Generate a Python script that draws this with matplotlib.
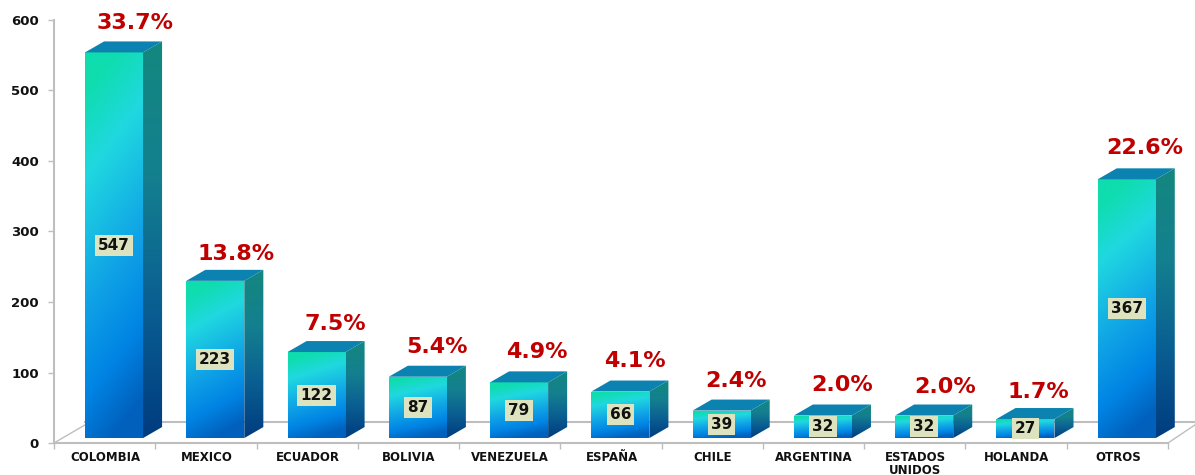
import matplotlib
matplotlib.use("Agg")
import matplotlib.pyplot as plt
from matplotlib.colors import LinearSegmentedColormap
from matplotlib.patches import Polygon
import numpy as np

categories = ["COLOMBIA", "MEXICO", "ECUADOR", "BOLIVIA", "VENEZUELA", "ESPAÑA",
              "CHILE", "ARGENTINA", "ESTADOS\nUNIDOS", "HOLANDA", "OTROS"]
values = [547, 223, 122, 87, 79, 66, 39, 32, 32, 27, 367]
percents = ["33.7%", "13.8%", "7.5%", "5.4%", "4.9%", "4.1%", "2.4%", "2.0%", "2.0%", "1.7%", "22.6%"]
y_ticks = [0, 100, 200, 300, 400, 500, 600]

# pixel nudges for the percent labels, they are not placed evenly in the original
pct_dx = [21, 21, 19, 19, 18, 15, 14, 19, 21, 13, 18]
pct_dy = [18, 16, 17, 19, 19, 20, 19, 20, 18, 16, 20]

# axis box in pixels
PX_LEFT, PX_RIGHT, PX_TOP, PX_BOTTOM = 54, 1168, 20, 443
W, H = 1195, 475

# bar geometry in data units
bar_start = 0.306
bar_width = 0.573
depth_x = 0.188
depth_y = 15.6
base = 7

front_cmap = LinearSegmentedColormap.from_list(
    "front", [(0, "#0FDDAE"), (0.22, "#20D8E0"), (0.55, "#10A4E6"), (0.8, "#0084E4"), (1, "#0060BC")])
side_cmap = LinearSegmentedColormap.from_list(
    "side", ["#13877F", "#14808F", "#0A5F92", "#003C80"])
top_color = "#0C82B0"
gray = "#BEBEBE"

fig = plt.figure(figsize=(W / 100, H / 100), dpi=100)
ax = fig.add_axes([PX_LEFT / W, 1 - PX_BOTTOM / H, (PX_RIGHT - PX_LEFT) / W, (PX_BOTTOM - PX_TOP) / H])


def gradient_fill(points, cmap, diag):
    poly = Polygon(points, closed=True, facecolor="none", edgecolor="none", transform=ax.transData)
    ax.add_patch(poly)
    v, h = np.mgrid[0:1:120j, 0:1:60j]
    t = np.clip(v + diag * (h - 0.5), 0, 1)
    xs = [p[0] for p in points]
    ys = [p[1] for p in points]
    im = ax.imshow(t, cmap=cmap, vmin=0, vmax=1, aspect="auto", zorder=3, interpolation="bilinear",
                   extent=[min(xs), max(xs), min(ys), max(ys)], origin="upper")
    # image is cut to its clip box, the last bar sticks out of the axes
    im.set_clip_box(fig.bbox)
    im.set_clip_path(poly)


# floor and back wall line
ax.plot([0, 0.31], [0, 26], color=gray, lw=1, clip_on=False, zorder=1)
ax.plot([11, 11.27], [0, 26], color=gray, lw=1, clip_on=False, zorder=1)
ax.plot([0.31, 11.27], [30, 30], color=gray, lw=1.5, clip_on=False, zorder=1)

for i, val in enumerate(values):
    x0 = i + bar_start
    x1 = x0 + bar_width
    y0 = base
    y1 = base + val
    gradient_fill([(x0, y0), (x1, y0), (x1, y1), (x0, y1)], front_cmap, 0.2)
    gradient_fill([(x1, y0), (x1 + depth_x, y0 + depth_y), (x1 + depth_x, y1 + depth_y), (x1, y1)], side_cmap, 0.0)
    ax.add_patch(Polygon([(x0, y1), (x1, y1), (x1 + depth_x, y1 + depth_y), (x0 + depth_x, y1 + depth_y)],
                         closed=True, facecolor=top_color, edgecolor="none", zorder=3, clip_on=False))
    ax.text((x0 + x1) / 2, (y0 + y1) / 2, str(val), ha="center", va="center", fontsize=11,
            fontweight="bold", color="#111111", zorder=5,
            bbox=dict(boxstyle="square,pad=0.2", facecolor="#DDE3BE", edgecolor="none"))
    ax.annotate(percents[i], xy=((x0 + x1) / 2, y1 + depth_y),
                xytext=(pct_dx[i] * 0.72, pct_dy[i] * 0.72), textcoords="offset points",
                ha="center", va="center", fontsize=16, fontweight="bold", color="#C00000",
                zorder=6, annotation_clip=False)

ax.set_xlim(0, 11)
ax.set_ylim(0, 600)
ax.set_facecolor("none")

for side in ["top", "right"]:
    ax.spines[side].set_visible(False)
for side in ["left", "bottom"]:
    ax.spines[side].set_color(gray)
    ax.spines[side].set_linewidth(1.5)

ax.set_yticks(y_ticks)
ax.set_yticklabels([str(t) for t in y_ticks], fontsize=9.5, fontweight="bold", color="#111111")
ax.tick_params(axis="y", length=4, width=1, color=gray, pad=7)

ax.set_xticks(range(len(categories) + 1))
ax.set_xticklabels([])
ax.tick_params(axis="x", which="major", length=4, width=1, color=gray)
ax.set_xticks(np.arange(len(categories)) + 0.505, minor=True)
ax.set_xticklabels(categories, minor=True, fontsize=8.5, fontweight="bold", color="#111111", linespacing=0.95)
ax.tick_params(axis="x", which="minor", length=0, pad=6)

fig.savefig("out.png", dpi=100, facecolor="white")
